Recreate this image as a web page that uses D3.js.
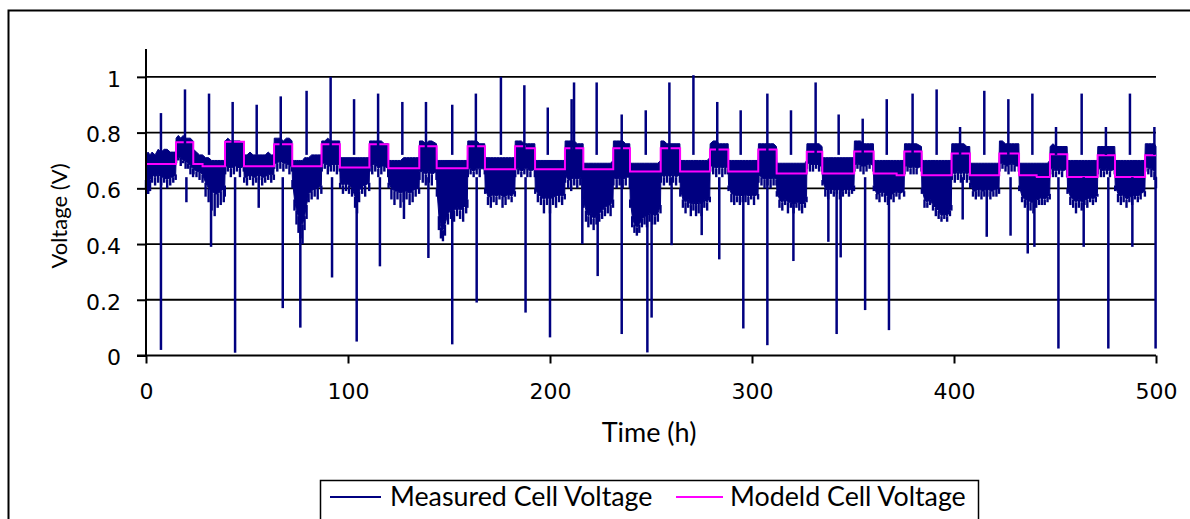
<!DOCTYPE html>
<html><head><meta charset="utf-8">
<script src="https://cdn.jsdelivr.net/npm/d3@7"></script>
<style>
html,body{margin:0;padding:0;background:#fff;}
svg{display:block;}
</style></head>
<body>
<svg id="chart" width="1190" height="519"></svg>
<script>
// ---- Data ----
const xTicks = [0, 100, 200, 300, 400, 500];
const yTicks = [0, 0.2, 0.4, 0.6, 0.8, 1];
const yTickLabels = ["0", "0.2", "0.4", "0.6", "0.8", "1"];
const seriesNames = ["Measured Cell Voltage", "Modeld Cell Voltage"];
const axisTitles = ["Time (h)", "Voltage (V)"];

// Modelled cell voltage: step changes (time h, voltage V)
const modelT = [0, 14.85, 23.4, 28, 39.1, 48.5, 63.4, 72.4, 86.9, 96, 110.6, 120, 135.3, 143.9, 159.2, 167.8, 182.7, 187.6, 192.6, 207.4, 216.5, 231.3, 239.6, 254.8, 264.4, 279.2, 288.3, 303.1, 312.2, 327.1, 334.8, 350.6, 360.2, 371.6, 375.4, 384, 398.8, 407.9, 422.4, 432.2, 440.9, 447.5, 456.1, 471.1, 479.7, 494.6, 500];
const modelV = [0.687, 0.765, 0.687, 0.679, 0.767, 0.679, 0.758, 0.679, 0.758, 0.675, 0.758, 0.672, 0.751, 0.672, 0.751, 0.668, 0.751, 0.744, 0.668, 0.744, 0.668, 0.744, 0.660, 0.744, 0.660, 0.739, 0.660, 0.739, 0.653, 0.731, 0.653, 0.732, 0.653, 0.647, 0.732, 0.647, 0.725, 0.647, 0.725, 0.647, 0.641, 0.722, 0.641, 0.719, 0.641, 0.719, 0.719];

// Measured cell voltage, dense noisy record: [time, upper edge, lower edge of solid band, tip of downward noise]
const measuredBand = [
 [0,0.72,0.63,0.60],[1,0.73,0.62,0.58],[2,0.72,0.63,0.59],[3,0.73,0.65,0.62],[4.5,0.72,0.64,0.61],[6,0.74,0.65,0.62],[7.5,0.73,0.64,0.61],[9,0.74,0.64,0.62],[10.5,0.74,0.63,0.60],[12,0.73,0.64,0.61],[13.5,0.73,0.64,0.62],[14.7,0.73,0.65,0.63],
 [14.9,0.78,0.71,0.69],[16,0.79,0.71,0.70],[17.2,0.78,0.71,0.68],[18.4,0.79,0.70,0.69],[19.6,0.78,0.70,0.67],[20.8,0.78,0.69,0.67],[22,0.78,0.68,0.65],[23.3,0.77,0.67,0.64],
 [23.5,0.74,0.67,0.65],[25,0.73,0.66,0.64],[26.5,0.72,0.66,0.63],[28,0.72,0.65,0.62],[29.5,0.71,0.62,0.57],[31,0.71,0.60,0.55],[32.5,0.70,0.59,0.52],[34,0.70,0.58,0.50],[35.5,0.70,0.58,0.53],[37,0.70,0.59,0.54],[38.5,0.70,0.60,0.55],[39,0.70,0.61,0.57],
 [39.2,0.77,0.68,0.65],[40.5,0.78,0.68,0.66],[42,0.77,0.67,0.64],[43.5,0.77,0.68,0.65],[45,0.77,0.68,0.66],[46.5,0.77,0.67,0.64],[48.4,0.76,0.68,0.66],
 [48.6,0.72,0.64,0.62],[50,0.72,0.64,0.61],[51.5,0.73,0.65,0.63],[53,0.72,0.64,0.61],[54.5,0.72,0.64,0.62],[56,0.72,0.65,0.63],[57.5,0.72,0.64,0.61],[59,0.72,0.64,0.62],[60.5,0.73,0.65,0.63],[62,0.72,0.65,0.62],[63.3,0.72,0.65,0.63],
 [63.5,0.78,0.69,0.67],[65,0.78,0.69,0.66],[66.5,0.78,0.70,0.67],[68,0.77,0.69,0.66],[69.5,0.78,0.69,0.67],[71,0.78,0.68,0.65],[72.3,0.77,0.68,0.66],
 [72.5,0.70,0.63,0.60],[73.5,0.70,0.56,0.52],[74.5,0.70,0.52,0.47],[75.5,0.70,0.50,0.44],[76.5,0.70,0.48,0.42],[77.5,0.70,0.47,0.40],[78.5,0.71,0.50,0.45],[79.5,0.71,0.54,0.49],[80.5,0.71,0.58,0.55],[82,0.72,0.59,0.56],[83.5,0.72,0.60,0.57],[85,0.72,0.60,0.56],[86.8,0.72,0.61,0.58],
 [87,0.77,0.69,0.66],[88.5,0.77,0.69,0.67],[90,0.78,0.68,0.65],[91.5,0.77,0.68,0.66],[93,0.77,0.69,0.66],[94.5,0.77,0.68,0.65],[95.9,0.77,0.69,0.66],
 [96.1,0.71,0.62,0.60],[97.5,0.71,0.61,0.58],[99,0.71,0.62,0.59],[100.5,0.71,0.61,0.58],[102,0.71,0.60,0.57],[103.5,0.71,0.57,0.53],[104.5,0.71,0.56,0.51],[105.5,0.71,0.59,0.55],[107,0.71,0.61,0.58],[108.5,0.71,0.61,0.57],[110.5,0.71,0.62,0.59],
 [110.7,0.77,0.68,0.66],[112,0.77,0.68,0.65],[113.5,0.77,0.69,0.66],[115,0.77,0.67,0.64],[116.5,0.77,0.68,0.65],[118,0.76,0.68,0.66],[119.9,0.76,0.67,0.64],
 [120.1,0.70,0.62,0.60],[121.5,0.70,0.60,0.56],[123,0.70,0.59,0.54],[124.5,0.70,0.59,0.56],[126,0.70,0.58,0.53],[127.5,0.71,0.59,0.55],[129,0.71,0.59,0.56],[130.5,0.71,0.58,0.54],[132,0.71,0.59,0.55],[133.5,0.71,0.60,0.57],[135.2,0.71,0.60,0.58],
 [135.4,0.77,0.66,0.63],[137,0.77,0.66,0.62],[138.5,0.76,0.65,0.61],[140,0.77,0.66,0.62],[141.5,0.77,0.65,0.61],[143.8,0.76,0.66,0.63],
 [144,0.70,0.60,0.57],[145,0.70,0.50,0.45],[146,0.70,0.46,0.42],[147,0.70,0.45,0.41],[148,0.70,0.47,0.43],[149.5,0.70,0.51,0.47],[151,0.70,0.52,0.49],[152.5,0.70,0.52,0.48],[154,0.70,0.53,0.50],[155.5,0.70,0.52,0.49],[157,0.70,0.53,0.48],[158.5,0.70,0.54,0.51],[159.1,0.70,0.56,0.53],
 [159.3,0.77,0.67,0.64],[160.7,0.77,0.67,0.65],[162.2,0.77,0.66,0.64],[163.7,0.77,0.67,0.65],[165.2,0.76,0.67,0.64],[167.7,0.76,0.67,0.65],
 [167.9,0.71,0.60,0.58],[169.3,0.71,0.57,0.54],[170.7,0.71,0.57,0.53],[172.1,0.71,0.58,0.55],[173.5,0.71,0.57,0.54],[175,0.71,0.58,0.56],[176.5,0.71,0.57,0.53],[178,0.71,0.57,0.54],[179.5,0.71,0.58,0.56],[181,0.71,0.57,0.55],[182.6,0.71,0.59,0.57],
 [182.8,0.77,0.67,0.64],[184.3,0.77,0.67,0.65],[185.8,0.77,0.66,0.64],[187.3,0.76,0.67,0.65],[188.8,0.76,0.67,0.64],[190.3,0.76,0.66,0.64],[192.5,0.76,0.67,0.64],
 [192.7,0.70,0.60,0.58],[194,0.70,0.58,0.55],[195.5,0.70,0.57,0.54],[197,0.70,0.56,0.51],[198.5,0.70,0.57,0.54],[200,0.70,0.56,0.51],[201.5,0.70,0.57,0.54],[203,0.70,0.57,0.53],[204.5,0.70,0.58,0.55],[206,0.70,0.57,0.54],[207.3,0.70,0.58,0.56],
 [207.5,0.77,0.65,0.62],[209,0.77,0.63,0.60],[210.5,0.77,0.63,0.59],[212,0.77,0.64,0.61],[213.5,0.76,0.63,0.60],[215,0.76,0.64,0.61],[216.4,0.76,0.63,0.60],
 [216.6,0.69,0.56,0.53],[217.8,0.69,0.52,0.48],[219,0.69,0.50,0.46],[220.3,0.69,0.51,0.47],[221.6,0.69,0.49,0.45],[223,0.69,0.50,0.47],[224.4,0.69,0.51,0.48],[225.8,0.69,0.52,0.49],[227.2,0.69,0.53,0.50],[228.6,0.69,0.54,0.51],[230,0.69,0.54,0.50],[231.2,0.70,0.56,0.53],
 [231.4,0.77,0.64,0.61],[233,0.77,0.63,0.60],[234.5,0.77,0.64,0.61],[236,0.77,0.63,0.60],[237.5,0.76,0.64,0.61],[239.5,0.76,0.64,0.60],
 [239.7,0.69,0.56,0.53],[240.7,0.69,0.50,0.46],[241.8,0.69,0.47,0.44],[243,0.69,0.46,0.43],[244.2,0.69,0.47,0.44],[245.5,0.69,0.49,0.46],[246.8,0.69,0.50,0.47],[248,0.69,0.50,0.46],[249.3,0.69,0.51,0.48],[250.6,0.69,0.51,0.47],[252,0.69,0.50,0.47],[253.4,0.69,0.51,0.48],[254.7,0.70,0.54,0.51],
 [254.9,0.77,0.65,0.62],[256.4,0.77,0.64,0.61],[257.9,0.76,0.65,0.62],[259.4,0.76,0.64,0.61],[260.9,0.76,0.65,0.62],[262.4,0.76,0.64,0.61],[264.3,0.76,0.65,0.62],
 [264.5,0.70,0.60,0.57],[265.8,0.70,0.56,0.53],[267.1,0.70,0.55,0.51],[268.4,0.70,0.56,0.53],[269.7,0.70,0.54,0.50],[271,0.70,0.55,0.52],[272.3,0.70,0.54,0.50],[273.6,0.70,0.55,0.51],[275,0.70,0.54,0.50],[276.4,0.70,0.56,0.53],[277.8,0.70,0.55,0.52],[279.1,0.71,0.57,0.55],
 [279.3,0.76,0.68,0.66],[280.8,0.77,0.68,0.65],[282.3,0.77,0.67,0.64],[283.8,0.76,0.68,0.65],[285.3,0.76,0.67,0.64],[286.8,0.76,0.68,0.65],[288.2,0.76,0.67,0.65],
 [288.4,0.70,0.61,0.59],[289.8,0.70,0.58,0.55],[291.2,0.70,0.58,0.54],[292.6,0.70,0.57,0.55],[294,0.70,0.58,0.54],[295.4,0.70,0.57,0.55],[296.8,0.70,0.58,0.55],[298.2,0.70,0.57,0.54],[299.6,0.70,0.58,0.56],[301,0.70,0.57,0.54],[303,0.70,0.58,0.56],
 [303.2,0.76,0.65,0.62],[304.7,0.76,0.64,0.61],[306.2,0.76,0.63,0.60],[307.7,0.76,0.64,0.61],[309.2,0.76,0.63,0.60],[310.7,0.76,0.64,0.61],[312.1,0.75,0.63,0.61],
 [312.3,0.69,0.59,0.57],[313.6,0.69,0.56,0.53],[315,0.69,0.55,0.52],[316.4,0.69,0.56,0.54],[317.8,0.69,0.55,0.51],[319.2,0.69,0.55,0.53],[320.6,0.69,0.54,0.51],[322,0.69,0.55,0.53],[323.4,0.69,0.55,0.52],[324.8,0.69,0.54,0.51],[326.2,0.69,0.55,0.53],[327,0.70,0.57,0.55],
 [327.2,0.76,0.69,0.67],[328.7,0.76,0.69,0.66],[330.2,0.76,0.68,0.66],[331.7,0.76,0.69,0.67],[333.2,0.76,0.68,0.66],[334.7,0.75,0.68,0.66],
 [334.9,0.71,0.63,0.61],[336.3,0.71,0.60,0.57],[337.7,0.71,0.59,0.56],[339.1,0.71,0.60,0.58],[340.5,0.71,0.59,0.57],[342,0.71,0.60,0.58],[343.5,0.71,0.59,0.56],[345,0.71,0.59,0.57],[346.5,0.71,0.60,0.58],[348,0.71,0.59,0.57],[349.5,0.71,0.60,0.58],[350.5,0.71,0.61,0.59],
 [350.7,0.77,0.68,0.66],[352.2,0.77,0.69,0.67],[353.7,0.77,0.68,0.66],[355.2,0.76,0.68,0.65],[356.7,0.76,0.68,0.66],[358.2,0.76,0.69,0.67],[360.1,0.76,0.68,0.66],
 [360.3,0.70,0.61,0.59],[361.7,0.70,0.58,0.56],[363.1,0.70,0.58,0.55],[364.5,0.70,0.59,0.57],[365.9,0.70,0.58,0.55],[367.3,0.70,0.57,0.54],[368.7,0.70,0.58,0.56],[370.1,0.70,0.58,0.55],[371.5,0.70,0.59,0.57],[373,0.70,0.58,0.56],[375.3,0.70,0.59,0.57],
 [375.5,0.76,0.68,0.65],[377,0.76,0.68,0.66],[378.5,0.76,0.67,0.65],[380,0.76,0.68,0.65],[381.5,0.76,0.67,0.65],[383.9,0.75,0.68,0.66],
 [384.1,0.70,0.60,0.58],[385.4,0.70,0.56,0.53],[386.8,0.70,0.55,0.53],[388.2,0.70,0.56,0.54],[389.6,0.70,0.54,0.52],[391,0.70,0.53,0.50],[392.4,0.70,0.52,0.49],[393.8,0.70,0.50,0.48],[395.2,0.70,0.51,0.49],[396.6,0.70,0.50,0.48],[398,0.70,0.52,0.50],[398.7,0.70,0.54,0.52],
 [398.9,0.76,0.66,0.63],[400.4,0.76,0.65,0.62],[401.9,0.76,0.66,0.63],[403.4,0.76,0.65,0.62],[404.9,0.76,0.66,0.63],[406.4,0.75,0.65,0.62],[407.8,0.75,0.66,0.63],
 [408,0.69,0.62,0.60],[409.4,0.69,0.59,0.57],[410.8,0.69,0.59,0.56],[412.2,0.69,0.60,0.57],[413.6,0.69,0.59,0.56],[415,0.69,0.59,0.57],[416.5,0.69,0.60,0.57],[418,0.69,0.59,0.56],[419.5,0.69,0.59,0.57],[421,0.69,0.60,0.57],[422.3,0.69,0.60,0.58],
 [422.5,0.77,0.69,0.66],[424,0.77,0.69,0.67],[425.5,0.76,0.68,0.66],[427,0.76,0.68,0.65],[428.5,0.76,0.69,0.66],[430,0.76,0.68,0.66],[432.1,0.76,0.68,0.66],
 [432.3,0.69,0.61,0.59],[433.7,0.69,0.57,0.55],[435.1,0.69,0.56,0.53],[436.5,0.69,0.56,0.54],[437.9,0.69,0.55,0.52],[439.3,0.69,0.55,0.51],[440.7,0.69,0.56,0.53],[442.1,0.69,0.56,0.54],[443.5,0.69,0.57,0.54],[444.9,0.69,0.56,0.54],[446.3,0.69,0.57,0.55],[447.4,0.70,0.58,0.56],
 [447.6,0.75,0.67,0.65],[449,0.76,0.67,0.64],[450.5,0.75,0.66,0.64],[452,0.75,0.67,0.65],[453.5,0.75,0.66,0.64],[456,0.75,0.67,0.64],
 [456.2,0.70,0.60,0.58],[457.6,0.70,0.57,0.54],[459,0.70,0.56,0.53],[460.4,0.70,0.55,0.51],[461.8,0.70,0.56,0.53],[463.2,0.70,0.55,0.52],[464.6,0.70,0.56,0.54],[466,0.70,0.56,0.53],[467.4,0.70,0.57,0.55],[468.8,0.70,0.56,0.54],[470.2,0.70,0.57,0.55],[471,0.70,0.58,0.57],
 [471.2,0.75,0.67,0.65],[472.7,0.75,0.67,0.64],[474.2,0.75,0.66,0.64],[475.7,0.75,0.67,0.65],[477.2,0.75,0.66,0.64],[479.6,0.75,0.67,0.65],
 [479.8,0.70,0.61,0.59],[481.2,0.70,0.58,0.55],[482.6,0.70,0.57,0.54],[484,0.70,0.58,0.55],[485.4,0.70,0.56,0.53],[486.8,0.70,0.57,0.55],[488.2,0.70,0.57,0.54],[489.6,0.70,0.58,0.56],[491,0.70,0.57,0.55],[492.4,0.70,0.58,0.56],[494.5,0.70,0.59,0.57],
 [494.7,0.76,0.68,0.66],[496.2,0.76,0.67,0.65],[497.7,0.76,0.67,0.64],[499.2,0.76,0.66,0.63],[500,0.75,0.64,0.60]
];

// Measured cell voltage: short excursions [time, voltage]
const spikesUp = [[7.4,0.87],[19.3,0.955],[31.2,0.94],[42.9,0.91],[54.8,0.90],[66.7,0.93],[79.5,0.95],[91.4,1.0],[103,0.92],[114.9,0.94],[126.9,0.91],[138.6,0.91],[151.6,0.90],[163.3,0.94],[175.7,1.0],[187.3,0.97],[198.9,0.89],[210.7,0.92],[211.9,0.98],[223.1,0.98],[235.5,0.865],[247.4,0.88],[259.1,0.98],[271,1.006],[282.8,0.91],[294.4,0.88],[307.6,0.94],[319.3,0.88],[331.5,0.98],[342.9,0.865],[354.8,0.85],[366.7,0.92],[379.5,0.94],[391.4,0.955],[403,0.82],[415,0.95],[426.9,0.92],[438.8,0.94],[450.5,0.82],[463.2,0.94],[475.2,0.82],[487.1,0.94],[499.2,0.82]];
const spikesDown = [[1,0.58],[7.4,0.02],[20,0.55],[32.2,0.39],[44.1,0.01],[55.8,0.53],[67.7,0.17],[76.4,0.10],[92.1,0.28],[104.3,0.05],[115.8,0.32],[127.7,0.49],[139.8,0.35],[151.6,0.04],[163.7,0.19],[187.9,0.154],[200,0.065],[216,0.40],[223.6,0.285],[235.5,0.077],[248.2,0.011],[250.3,0.136],[260.2,0.396],[275.1,0.432],[283.8,0.345],[295.7,0.097],[307.6,0.037],[320.5,0.339],[337.8,0.408],[341.9,0.077],[343.9,0.352],[356,0.163],[367.8,0.091],[404.3,0.488],[416.2,0.426],[428,0.43],[436.5,0.366],[439.8,0.39],[451.7,0.025],[464.2,0.39],[476.4,0.025],[488.3,0.39],[499.8,0.025]];

// ---- Drawing ----
const svg = d3.select("#chart");
const W = 1190, H = 519;
const navy = "#000080", magenta = "#FF00FF";
const tickFont = "'DejaVu Sans', Verdana, sans-serif";
const textFont = "Lato, 'Liberation Sans', sans-serif";

svg.append("rect").attr("width", W).attr("height", H).attr("fill", "#fff");
// chart frame
svg.append("rect").attr("x", 8.5).attr("y", 10.5).attr("width", 1200).attr("height", 530)
  .attr("fill", "none").attr("stroke", "#000").attr("stroke-width", 2);

const x = d3.scaleLinear().domain([0, 500]).range([146, 1156]);
const y = d3.scaleLinear().domain([0, 1.1]).range([355.5, 49]);

// gridlines
svg.append("g").selectAll("line").data(yTicks.filter(d => d > 0)).join("line")
  .attr("x1", x(0)).attr("x2", x(500))
  .attr("y1", d => y(d)).attr("y2", d => y(d))
  .attr("stroke", "#000").attr("stroke-width", 1.8);

const modelData = modelT.map((t, i) => [t, modelV[i]]);
const modelLine = d3.line().x(d => x(d[0])).y(d => y(d[1])).curve(d3.curveStepAfter);

// measured: solid band
const band = d3.area().x(d => x(d[0])).y0(d => y(d[2])).y1(d => y(d[1]));
svg.append("path").datum(measuredBand).attr("d", band)
  .attr("fill", navy).attr("stroke", navy).attr("stroke-width", 1).attr("stroke-linejoin", "round");
// measured: downward noise
svg.append("g").attr("stroke", navy).attr("stroke-width", 2.4)
  .selectAll("line").data(measuredBand).join("line")
  .attr("x1", d => x(d[0])).attr("x2", d => x(d[0]))
  .attr("y1", d => y(d[2])).attr("y2", d => y(d[3]));

// model
svg.append("path").datum(modelData).attr("d", modelLine)
  .attr("fill", "none").attr("stroke", magenta).attr("stroke-width", 2);

// spikes
const spikeG = svg.append("g").attr("stroke", navy).attr("stroke-width", 2.5);
spikeG.selectAll("line.up").data(spikesUp).join("line").attr("class", "up")
  .attr("x1", d => x(d[0])).attr("x2", d => x(d[0]))
  .attr("y1", d => y(0.72)).attr("y2", d => y(d[1]));
spikeG.selectAll("line.dn").data(spikesDown).join("line").attr("class", "dn")
  .attr("x1", d => x(d[0])).attr("x2", d => x(d[0]))
  .attr("y1", d => y(0.64)).attr("y2", d => y(d[1]));

// y axis
const yAxis = d3.axisLeft(y).tickValues(yTicks).tickSize(9).tickPadding(16)
  .tickFormat((d, i) => yTickLabels[i]);
const gy = svg.append("g").attr("transform", `translate(${x(0)},0)`).call(yAxis);
gy.select(".domain").remove();
gy.selectAll("line").attr("stroke", "#000").attr("stroke-width", 2);
gy.selectAll("text").attr("font-family", tickFont).attr("font-size", 22).attr("fill", "#000").attr("dy", "0.42em");
svg.append("line").attr("x1", x(0)).attr("x2", x(0)).attr("y1", y(1.1)).attr("y2", y(0))
  .attr("stroke", "#000").attr("stroke-width", 2);

// x axis
const xAxis = d3.axisBottom(x).tickValues(xTicks).tickSize(8).tickPadding(20).tickFormat(d3.format("d"));
const gx = svg.append("g").attr("transform", `translate(0,${y(0)})`).call(xAxis);
gx.select(".domain").remove();
gx.selectAll("line").attr("stroke", "#000").attr("stroke-width", 2);
gx.selectAll("text").attr("font-family", tickFont).attr("font-size", 22).attr("fill", "#000");
svg.append("line").attr("x1", x(0) - 9).attr("x2", x(500)).attr("y1", y(0)).attr("y2", y(0))
  .attr("stroke", "#000").attr("stroke-width", 2);

// axis titles
svg.append("text").attr("transform", `translate(67,216) rotate(-90)`)
  .attr("text-anchor", "middle").attr("font-family", textFont).attr("font-size", 22).attr("fill", "#000")
  .text(axisTitles[1]);
svg.append("text").attr("x", 649).attr("y", 442)
  .attr("text-anchor", "middle").attr("font-family", textFont).attr("font-size", 27).attr("fill", "#000")
  .text(axisTitles[0]);

// legend
const lg = svg.append("g");
lg.append("rect").attr("x", 320.5).attr("y", 480.5).attr("width", 658).attr("height", 45)
  .attr("fill", "#fff").attr("stroke", "#000").attr("stroke-width", 1.5);
const legendItems = [
  {name: seriesNames[0], color: navy, x0: 330, x1: 381, tx: 390},
  {name: seriesNames[1], color: magenta, x0: 676, x1: 723, tx: 730}
];
legendItems.forEach(it => {
  lg.append("line").attr("x1", it.x0).attr("x2", it.x1).attr("y1", 497).attr("y2", 497)
    .attr("stroke", it.color).attr("stroke-width", 2);
  lg.append("text").attr("x", it.tx).attr("y", 506).attr("font-family", textFont).attr("font-size", 26.8)
    .attr("fill", "#000").text(it.name);
});
</script>
</body></html>
